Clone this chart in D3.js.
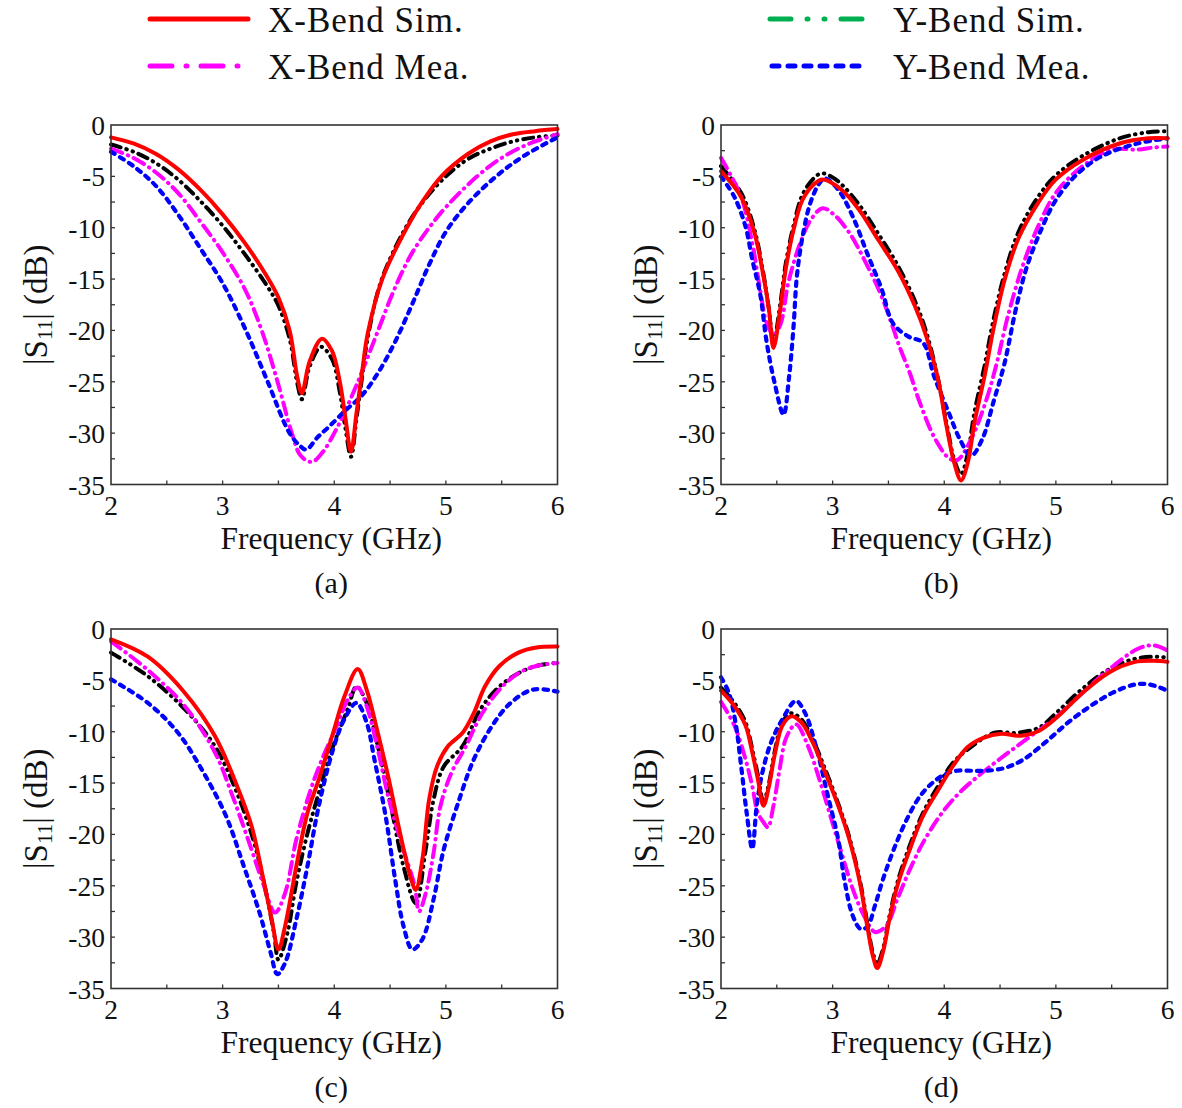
<!DOCTYPE html>
<html><head><meta charset="utf-8">
<script src="https://cdn.jsdelivr.net/npm/d3@7"></script>
<style>
html,body{margin:0;padding:0;background:#fff;}
text{font-family:"Liberation Serif","Times New Roman",serif;fill:#111;}
</style></head>
<body>
<svg id="chart" width="1182" height="1108"></svg>
<script>
// ---------- data ----------
const xTicks = [2, 3, 4, 5, 6];
const yTicks = [0, -5, -10, -15, -20, -25, -30, -35];
const panelLabels = ["(a)", "(b)", "(c)", "(d)"];
const seriesNames = ["X-Bend Sim.", "X-Bend Mea.", "Y-Bend Sim.", "Y-Bend Mea."];

// panel (a)
const a_XSim = [[2.0,-1.2],[2.2,-1.8],[2.4,-2.8],[2.6,-4.3],[2.8,-6.3],[3.0,-8.7],[3.2,-11.5],[3.4,-14.8],[3.5,-16.8],[3.6,-20.0],[3.67,-24.6],[3.71,-26.1],[3.78,-23],[3.89,-20.8],[3.98,-22],[4.05,-25],[4.1,-28.5],[4.15,-31.8],[4.2,-28],[4.25,-24],[4.3,-20.3],[4.43,-15],[4.65,-10],[4.8,-7.3],[4.96,-5],[5.2,-2.8],[5.4,-1.6],[5.6,-0.9],[5.8,-0.6],[6.0,-0.4]];
const a_YSim = [[2.0,-1.9],[2.2,-2.6],[2.4,-3.7],[2.6,-5.3],[2.8,-7.4],[3.0,-9.8],[3.2,-12.6],[3.4,-15.7],[3.5,-17.6],[3.6,-20.8],[3.67,-25.2],[3.71,-26.7],[3.78,-23.5],[3.88,-21.6],[3.98,-22.8],[4.05,-26],[4.1,-29.5],[4.15,-32.3],[4.2,-28.5],[4.25,-24.5],[4.3,-20.7],[4.42,-15.2],[4.63,-10.2],[4.8,-7.4],[5.0,-5.0],[5.2,-3.3],[5.4,-2.3],[5.6,-1.6],[5.8,-1.2],[6.0,-1.0]];
const a_XMea = [[2.0,-2.3],[2.2,-3.2],[2.4,-4.6],[2.6,-6.6],[2.8,-9.4],[3.0,-12.4],[3.2,-16],[3.35,-20],[3.5,-25.3],[3.62,-30],[3.7,-32.2],[3.8,-32.8],[3.9,-31.8],[4.0,-30],[4.1,-27.8],[4.2,-25.3],[4.3,-22.6],[4.4,-19.8],[4.5,-17.0],[4.6,-14.5],[4.7,-12.4],[4.85,-10],[5.0,-8.0],[5.28,-5],[5.5,-3.2],[5.75,-1.8],[6.0,-0.9]];
const a_YMea = [[2.0,-2.6],[2.2,-4.0],[2.4,-5.9],[2.6,-8.7],[2.8,-12.0],[3.0,-15.4],[3.2,-19.8],[3.4,-24.9],[3.6,-30.0],[3.7,-31.3],[3.75,-31.6],[3.85,-30.4],[3.95,-29.4],[4.1,-27.8],[4.25,-26.3],[4.4,-24.0],[4.55,-21.0],[4.7,-17.4],[4.85,-13.6],[5.0,-10.4],[5.2,-7.6],[5.45,-5],[5.7,-3],[6.0,-1.2]];

// panel (b)
const b_XSim = [[2.0,-4.5],[2.18,-7.0],[2.3,-10.5],[2.38,-14.7],[2.43,-18],[2.47,-21.7],[2.53,-18],[2.58,-14],[2.65,-10.2],[2.73,-7.3],[2.83,-5.8],[2.91,-5.3],[3.08,-6.3],[3.24,-8.3],[3.41,-11.2],[3.58,-14.1],[3.74,-17.7],[3.84,-20.6],[3.94,-24.5],[4.02,-29.3],[4.09,-32.9],[4.15,-34.6],[4.21,-32.9],[4.27,-29],[4.36,-24.5],[4.44,-19.9],[4.54,-15.1],[4.67,-10.9],[4.84,-7.6],[5.0,-5.3],[5.24,-3.4],[5.57,-1.8],[5.83,-1.3],[6.0,-1.3]];
const b_YSim = [[2.0,-4.0],[2.18,-6.6],[2.3,-10.2],[2.38,-14.5],[2.43,-18],[2.47,-21.2],[2.53,-17.5],[2.58,-13.5],[2.65,-9.8],[2.73,-6.8],[2.83,-5.2],[2.9,-4.7],[3.0,-5.1],[3.1,-6.0],[3.24,-7.8],[3.41,-10.6],[3.58,-13.6],[3.74,-17.2],[3.84,-20.2],[3.94,-24.5],[4.02,-29],[4.09,-32.6],[4.15,-34.0],[4.21,-32],[4.27,-28],[4.36,-23.5],[4.44,-19],[4.54,-14.5],[4.67,-10.3],[4.84,-7.0],[5.0,-4.9],[5.24,-3.0],[5.57,-1.3],[5.83,-0.7],[6.0,-0.6]];
const b_XMea = [[2.0,-3.2],[2.18,-7],[2.28,-11.5],[2.35,-16],[2.41,-19.3],[2.47,-20.4],[2.53,-19.5],[2.6,-15.5],[2.66,-13.1],[2.71,-11.5],[2.8,-9.3],[2.91,-8.1],[3.02,-8.8],[3.13,-10.2],[3.19,-11.2],[3.42,-16.2],[3.54,-19.7],[3.6,-21.6],[3.69,-24.1],[3.78,-27],[3.92,-30.6],[4.05,-32.5],[4.12,-32.6],[4.24,-30.6],[4.37,-27],[4.47,-23.2],[4.57,-18.6],[4.7,-13.8],[4.84,-9.9],[5.0,-6.6],[5.24,-4.0],[5.5,-2.4],[5.73,-2.4],[5.87,-2.2],[6.0,-2.1]];
const b_YMea = [[2.0,-5.0],[2.12,-7.0],[2.22,-9.9],[2.28,-13.1],[2.35,-16.4],[2.41,-21.2],[2.48,-25.1],[2.56,-28.2],[2.61,-24.5],[2.65,-19.6],[2.68,-14.7],[2.73,-10.9],[2.8,-7.6],[2.88,-5.7],[2.93,-5.2],[3.05,-6.3],[3.18,-8.9],[3.31,-12.5],[3.44,-16.0],[3.54,-19.3],[3.68,-20.6],[3.81,-21.2],[3.91,-24.5],[4.04,-28],[4.14,-30.6],[4.24,-32.2],[4.34,-30.6],[4.44,-27],[4.54,-23.2],[4.64,-18],[4.74,-13.8],[4.88,-9.9],[5.0,-7.3],[5.17,-5],[5.4,-3.1],[5.73,-1.8],[6.0,-1.3]];

// panel (c)
const c_XSim = [[2.0,-1.0],[2.33,-2.7],[2.66,-6.2],[2.93,-10.4],[3.13,-15.3],[3.26,-19.2],[3.36,-24.1],[3.44,-28.3],[3.5,-31.2],[3.56,-28.9],[3.66,-23.1],[3.76,-17.9],[3.86,-14.7],[3.99,-10.1],[4.09,-6.6],[4.21,-3.9],[4.29,-5.9],[4.39,-10.1],[4.49,-14.7],[4.59,-19.9],[4.69,-24.4],[4.73,-25.4],[4.79,-22.4],[4.85,-16.6],[4.92,-13.4],[5.02,-11.4],[5.15,-10.1],[5.25,-8.2],[5.35,-5.6],[5.48,-3.6],[5.65,-2.3],[5.81,-1.8],[6.0,-1.7]];
const c_YSim = [[2.0,-2.3],[2.33,-4.6],[2.66,-7.8],[2.93,-11.4],[3.13,-16],[3.29,-21.1],[3.39,-25.7],[3.46,-29.6],[3.5,-32.2],[3.58,-29.6],[3.66,-24.7],[3.76,-19.9],[3.86,-16],[3.99,-11.4],[4.12,-7.8],[4.2,-5.6],[4.29,-7.2],[4.39,-11.4],[4.52,-17.9],[4.62,-23.1],[4.73,-26.7],[4.82,-21.4],[4.89,-16.6],[4.98,-13.4],[5.15,-11.4],[5.31,-7.8],[5.48,-5.6],[5.65,-4.3],[5.81,-3.6],[6.0,-3.3]];
const c_XMea = [[2.0,-1.2],[2.33,-4.0],[2.66,-7.5],[2.93,-12],[3.09,-16.3],[3.26,-21.5],[3.36,-24.7],[3.47,-27.6],[3.56,-25.7],[3.66,-20.5],[3.79,-15.6],[3.89,-12.7],[4.02,-9.5],[4.12,-6.9],[4.21,-5.7],[4.29,-7.5],[4.39,-11.7],[4.49,-16.6],[4.62,-21.5],[4.72,-25],[4.76,-27.5],[4.82,-25.7],[4.89,-21.8],[4.95,-17.3],[5.05,-14],[5.18,-11.4],[5.31,-8.5],[5.48,-5.9],[5.65,-4.3],[5.81,-3.6],[6.0,-3.3]];
const c_YMea = [[2.0,-4.9],[2.33,-7.2],[2.6,-10.1],[2.83,-14],[3.03,-18.2],[3.19,-23.1],[3.33,-27.6],[3.43,-31.5],[3.49,-33.6],[3.56,-32.5],[3.66,-28.3],[3.76,-23.1],[3.86,-17.3],[3.99,-11.7],[4.09,-8.8],[4.2,-7.2],[4.29,-9.1],[4.36,-12.7],[4.46,-18.2],[4.55,-24.7],[4.62,-28.9],[4.7,-31.2],[4.79,-30.2],[4.89,-26.3],[4.98,-21.5],[5.12,-16.6],[5.25,-12.7],[5.41,-9.5],[5.58,-7.2],[5.78,-5.9],[6.0,-6.1]];

// panel (d)
const d_XSim = [[2.0,-6.0],[2.12,-7.5],[2.22,-9.4],[2.28,-12],[2.33,-14.6],[2.38,-17.2],[2.43,-15.3],[2.48,-12.3],[2.55,-9.4],[2.63,-8.5],[2.72,-9.1],[2.82,-11],[2.92,-13.6],[3.05,-17.2],[3.15,-20.5],[3.25,-25],[3.31,-28.9],[3.36,-31.8],[3.4,-33],[3.45,-31.5],[3.51,-28.2],[3.58,-25],[3.68,-21.8],[3.81,-18.2],[3.95,-15.6],[4.08,-13.3],[4.21,-11.5],[4.35,-10.6],[4.51,-10.2],[4.68,-10.4],[4.85,-9.9],[5.01,-8.6],[5.24,-6.2],[5.48,-4.2],[5.71,-3.2],[5.88,-3.1],[6.0,-3.2]];
const d_YSim = [[2.0,-5.7],[2.12,-7.2],[2.22,-9.1],[2.28,-11.7],[2.33,-14.2],[2.38,-16.8],[2.43,-15],[2.48,-12],[2.55,-9.1],[2.63,-8.2],[2.72,-8.8],[2.82,-10.7],[2.92,-13.3],[3.05,-17],[3.15,-20.3],[3.25,-24.8],[3.31,-28.6],[3.36,-31.5],[3.4,-32.6],[3.45,-31.2],[3.51,-27.9],[3.58,-24.7],[3.68,-21.4],[3.81,-17.9],[3.95,-15.2],[4.08,-13],[4.25,-11.4],[4.45,-10.1],[4.65,-10.1],[4.85,-9.6],[5.01,-8.1],[5.24,-5.8],[5.48,-3.9],[5.71,-2.9],[5.91,-2.7],[6.0,-2.8]];
const d_XMea = [[2.0,-7.1],[2.12,-9.4],[2.22,-12.7],[2.28,-15.3],[2.33,-17.9],[2.38,-18.8],[2.42,-19.3],[2.47,-17.2],[2.52,-14],[2.58,-10.7],[2.65,-9.4],[2.68,-9.3],[2.78,-11.4],[2.88,-14.6],[2.98,-18.2],[3.08,-21.8],[3.18,-25.3],[3.28,-27.9],[3.38,-29.5],[3.48,-28.9],[3.58,-26.3],[3.68,-23.7],[3.81,-20.8],[3.98,-17.9],[4.14,-15.9],[4.34,-14],[4.54,-12.3],[4.74,-10.7],[4.98,-8.8],[5.21,-6.5],[5.48,-3.9],[5.74,-1.9],[5.88,-1.6],[6.0,-2.1]];
const d_YMea = [[2.0,-4.7],[2.07,-6.2],[2.13,-9.1],[2.18,-13.3],[2.23,-17.9],[2.28,-21.4],[2.32,-17.2],[2.37,-14],[2.45,-11],[2.55,-8.8],[2.67,-7],[2.75,-8.1],[2.85,-11.4],[2.95,-15.9],[3.05,-20.5],[3.11,-24.7],[3.18,-27.9],[3.25,-29.2],[3.31,-29],[3.38,-26.9],[3.45,-24.4],[3.55,-21.4],[3.68,-18.2],[3.81,-15.9],[3.98,-14.3],[4.11,-13.8],[4.25,-13.8],[4.38,-13.8],[4.55,-13.5],[4.71,-12.7],[4.91,-11],[5.11,-9.1],[5.31,-7.5],[5.51,-6.2],[5.71,-5.4],[5.84,-5.4],[6.0,-6.0]];

const panelData = [
  [a_XSim, a_XMea, a_YSim, a_YMea],
  [b_XSim, b_XMea, b_YSim, b_YMea],
  [c_XSim, c_XMea, c_YSim, c_YMea],
  [d_XSim, d_XMea, d_YSim, d_YMea]
];

// ---------- styles ----------
const plotStyles = [
  {color:"#ff0000", width:4, dash:null, cap:"round"},
  {color:"#ff00ff", width:4, dash:"12,6,0.5,6", cap:"round"},
  {color:"#000000", width:4, dash:"10,6,0.5,6,0.5,6", cap:"round"},
  {color:"#0000ff", width:4.2, dash:"4.5,6", cap:"round"}
];
const legendStyles = [
  {color:"#ff0000", width:5, dash:null},
  {color:"#ff00ff", width:5, dash:"22,14,1,14"},
  {color:"#00b050", width:5, dash:"21,16,1,16,1,16"},
  {color:"#0000ff", width:5, dash:"7,9"}
];

const svg = d3.select("#chart");
const FONT = '"Liberation Serif","Times New Roman",serif';
const panels = [
  {x0:111, x1:557.5, y0:125, y1:484.5},
  {x0:721, x1:1167.5, y0:125, y1:484.5},
  {x0:111, x1:557.5, y0:629, y1:988.5},
  {x0:721, x1:1167.5, y0:629, y1:988.5}
];

panels.forEach((p, i) => {
  const x = d3.scaleLinear().domain([2, 6]).range([p.x0, p.x1]);
  const y = d3.scaleLinear().domain([-35, 0]).range([p.y1, p.y0]);
  const g = svg.append("g").attr("font-family", FONT);

  // ticks (inward)
  const xt = d3.range(2, 6.001, 0.5);
  const yt = d3.range(0, -35.001, -2.5);
  g.selectAll(".xt").data(xt.slice(1, -1)).join("line")
    .attr("x1", d => x(d)).attr("x2", d => x(d))
    .attr("y1", p.y1).attr("y2", p.y1 - 4)
    .attr("stroke", "#333").attr("stroke-width", 1.3);
  g.selectAll(".yt").data(yt.slice(1, -1)).join("line")
    .attr("y1", d => y(d)).attr("y2", d => y(d))
    .attr("x1", p.x0).attr("x2", p.x0 + 4)
    .attr("stroke", "#333").attr("stroke-width", 1.3);

  const line = d3.line().x(d => x(d[0])).y(d => y(d[1])).curve(d3.curveCatmullRom.alpha(0.5));
  const order = [2, 1, 3, 0];
  order.forEach(si => {
    const st = plotStyles[si];
    g.append("path").datum(panelData[i][si])
      .attr("d", line)
      .attr("fill", "none")
      .attr("stroke", st.color)
      .attr("stroke-width", st.width)
      .attr("stroke-linecap", st.cap)
      .attr("stroke-linejoin", "round")
      .attr("stroke-dasharray", st.dash);
  });

  // frame
  g.append("rect").attr("x", p.x0).attr("y", p.y0)
    .attr("width", p.x1 - p.x0).attr("height", p.y1 - p.y0)
    .attr("fill", "none").attr("stroke", "#333").attr("stroke-width", 1.6);

  // tick labels
  g.selectAll(".xl").data(xTicks).join("text")
    .attr("x", d => x(d)).attr("y", p.y1 + 30)
    .attr("text-anchor", "middle").attr("font-size", 27.5).text(d => d);
  g.selectAll(".yl").data(yTicks).join("text")
    .attr("x", p.x0 - 6).attr("y", d => y(d) + 10)
    .attr("text-anchor", "end").attr("font-size", 27.5).text(d => d);

  // axis titles
  g.append("text").attr("x", (p.x0 + p.x1) / 2 - 3).attr("y", p.y1 + 64)
    .attr("text-anchor", "middle").attr("font-size", 31.5).text("Frequency (GHz)");
  const yt2 = g.append("text")
    .attr("transform", `translate(${p.x0 - 64},${(p.y0 + p.y1) / 2}) rotate(-90)`)
    .attr("text-anchor", "middle").attr("font-size", 33);
  yt2.append("tspan").text("|S");
  yt2.append("tspan").attr("font-size", 21).attr("dy", 5).text("11");
  yt2.append("tspan").attr("dy", -5).text("| (dB)");

  g.append("text").attr("x", (p.x0 + p.x1) / 2 - 3).attr("y", p.y1 + 108)
    .attr("text-anchor", "middle").attr("font-size", 30).text(panelLabels[i]);
});

// legend
const legendPos = [
  {lx0:150, lx1:248, ly:19, tx:268},
  {lx0:150, lx1:240, ly:66, tx:268},
  {lx0:770, lx1:865, ly:19, tx:893},
  {lx0:772, lx1:862, ly:66, tx:893}
];
legendPos.forEach((lp, i) => {
  const st = legendStyles[i];
  svg.append("line").attr("x1", lp.lx0).attr("x2", lp.lx1)
    .attr("y1", lp.ly).attr("y2", lp.ly)
    .attr("stroke", st.color).attr("stroke-width", st.width)
    .attr("stroke-linecap", "round").attr("stroke-dasharray", st.dash);
  svg.append("text").attr("x", lp.tx).attr("y", lp.ly + 13)
    .attr("font-family", FONT).attr("font-size", 35)
    .attr("letter-spacing", 1).text(seriesNames[i]);
});
</script>
</body></html>
